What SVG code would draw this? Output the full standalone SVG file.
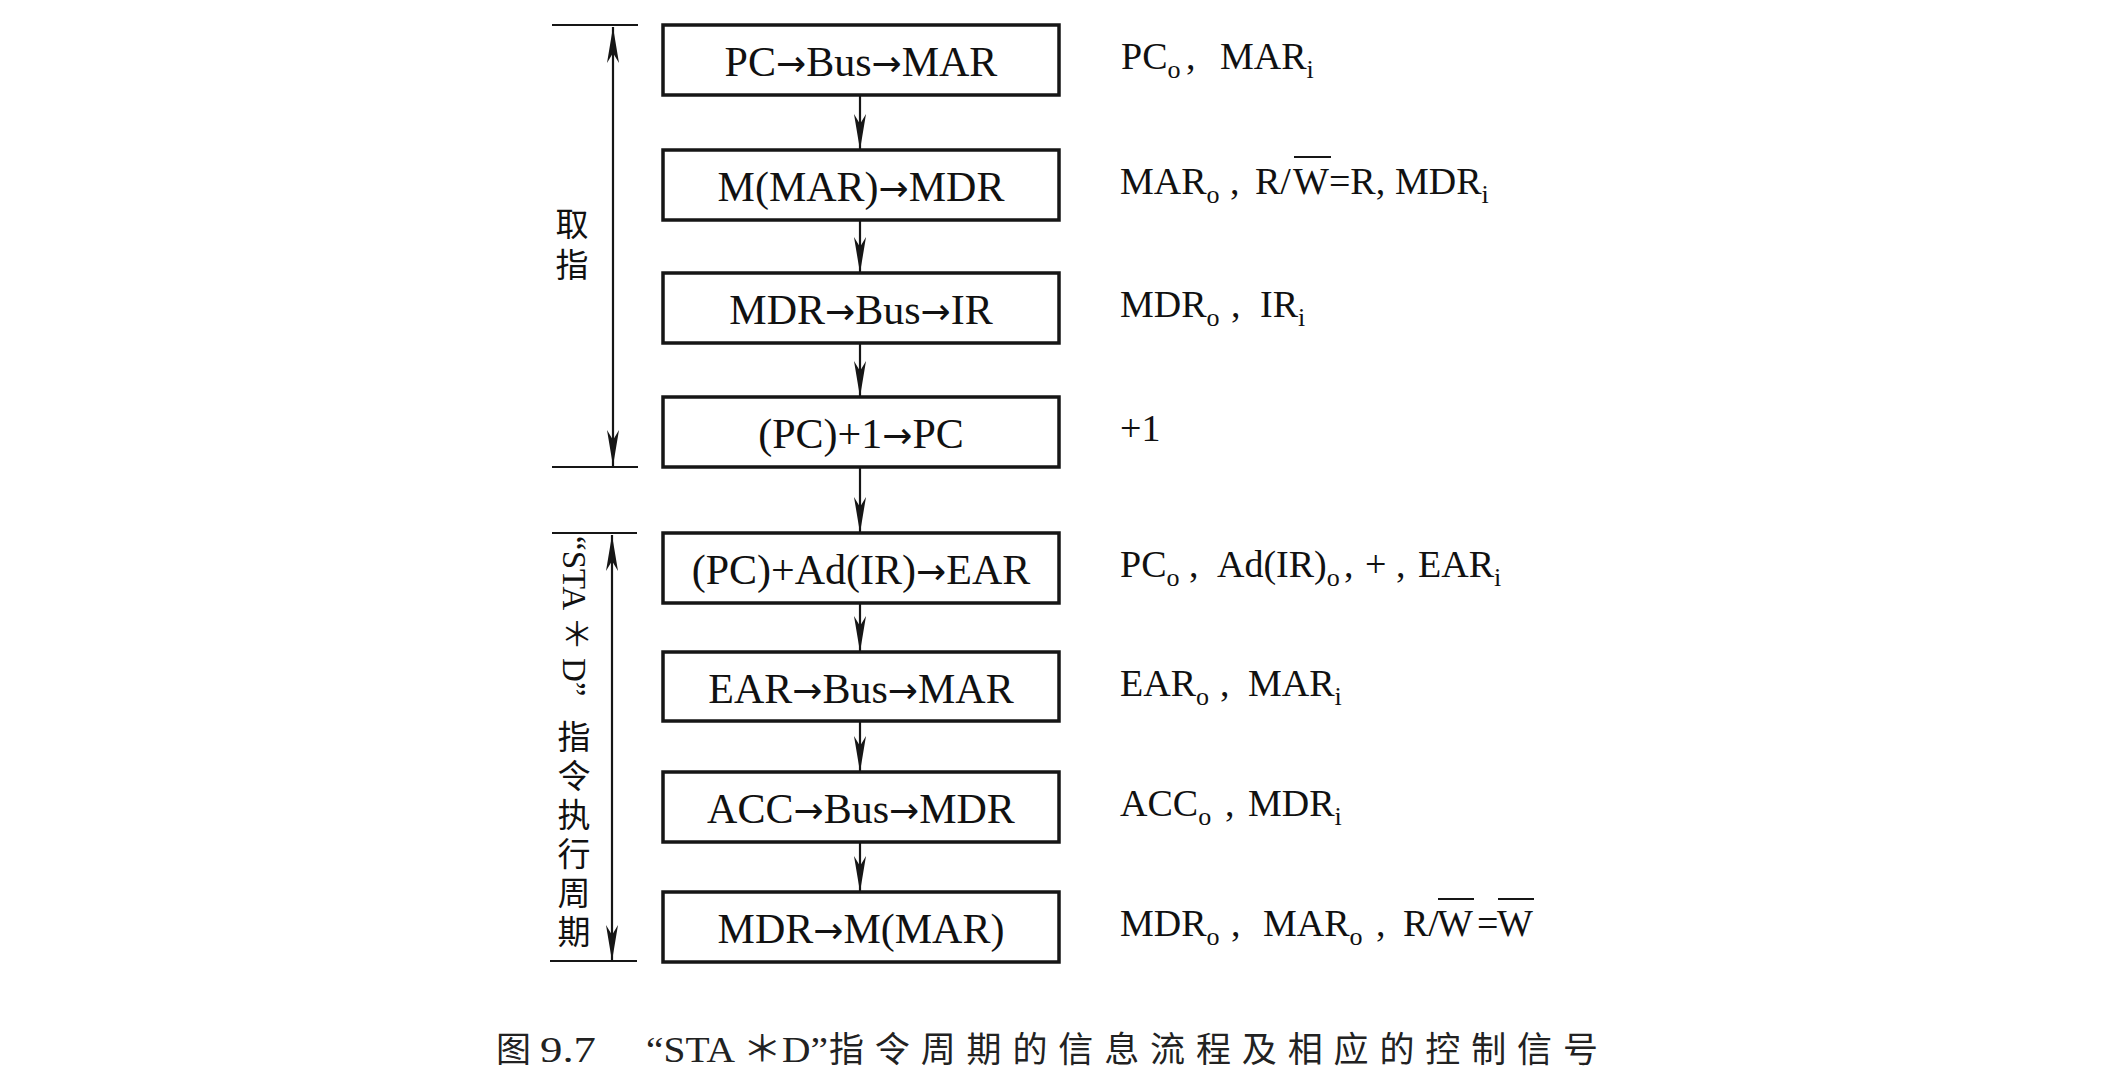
<svg xmlns="http://www.w3.org/2000/svg" width="2124" height="1092" viewBox="0 0 2124 1092">
<style>
.box{fill:#fff;stroke:#161616;stroke-width:3.5}
.bt{font-family:"Liberation Serif","Times New Roman",serif;font-size:42px;fill:#111;text-anchor:middle}
.ar{font-family:"DejaVu Sans",sans-serif;font-size:36px}
.sig{font-family:"Liberation Serif","Times New Roman",serif;font-size:38px;fill:#111}
.sub{font-size:26px}
.vt{font-family:"Liberation Serif","Noto Sans CJK SC",serif;font-size:33px;fill:#111;writing-mode:vertical-rl;text-orientation:mixed}
.cj{font-family:"Noto Sans CJK SC",sans-serif;letter-spacing:6px}
.ln{stroke:#161616;stroke-width:2.2;fill:none}
.ov{stroke:#161616;stroke-width:2}
.cap{font-family:"Noto Sans CJK SC",sans-serif;font-size:35px;fill:#222}
.capl{font-family:"Liberation Serif","Noto Sans CJK SC",serif;font-size:36px;fill:#222}
</style>
<defs>
<marker id="ah" viewBox="0 0 36 14" refX="36" refY="7" markerWidth="36" markerHeight="14" markerUnits="userSpaceOnUse" orient="auto-start-reverse">
<path d="M0,1 L36,7 L0,13 L10,7 Z" fill="#161616"/>
</marker>
</defs>
<rect width="2124" height="1092" fill="#fff"/>

<g id="connectors">
<line class="ln" x1="860" y1="96" x2="860" y2="150" marker-end="url(#ah)"/>
<line class="ln" x1="860" y1="221" x2="860" y2="273" marker-end="url(#ah)"/>
<line class="ln" x1="860" y1="344" x2="860" y2="397" marker-end="url(#ah)"/>
<line class="ln" x1="860" y1="468" x2="860" y2="533" marker-end="url(#ah)"/>
<line class="ln" x1="860" y1="604" x2="860" y2="652" marker-end="url(#ah)"/>
<line class="ln" x1="860" y1="722" x2="860" y2="772" marker-end="url(#ah)"/>
<line class="ln" x1="860" y1="843" x2="860" y2="892" marker-end="url(#ah)"/>
</g>

<g id="bracket-fetch">
<line class="ln" x1="552" y1="25" x2="638" y2="25"/>
<line class="ln" x1="552" y1="467" x2="638" y2="467"/>
<line class="ln" x1="613" y1="27" x2="613" y2="466" marker-start="url(#ah)" marker-end="url(#ah)"/>
<text class="vt" x="572" y="207"><tspan class="cj" style="letter-spacing:8px">取指</tspan></text>
</g>

<g id="bracket-exec">
<line class="ln" x1="552" y1="533" x2="637" y2="533"/>
<line class="ln" x1="550" y1="961" x2="637" y2="961"/>
<line class="ln" x1="612" y1="535" x2="612" y2="961" marker-start="url(#ah)" marker-end="url(#ah)"/>
<text class="vt" x="574" y="536">“STA ＊ D”<tspan class="cj" y="719">指令执行周期</tspan></text>
</g>

<g id="n1"><rect class="box" x="663" y="25" width="396" height="70"/><text class="bt" x="861" y="76">PC<tspan class="ar">→</tspan>Bus<tspan class="ar">→</tspan>MAR</text></g>
<g id="n2"><rect class="box" x="663" y="150" width="396" height="70"/><text class="bt" x="861" y="201">M(MAR)<tspan class="ar">→</tspan>MDR</text></g>
<g id="n3"><rect class="box" x="663" y="273" width="396" height="70"/><text class="bt" x="861" y="324">MDR<tspan class="ar">→</tspan>Bus<tspan class="ar">→</tspan>IR</text></g>
<g id="n4"><rect class="box" x="663" y="397" width="396" height="70"/><text class="bt" x="861" y="448">(PC)+1<tspan class="ar">→</tspan>PC</text></g>
<g id="n5"><rect class="box" x="663" y="533" width="396" height="70"/><text class="bt" x="861" y="584">(PC)+Ad(IR)<tspan class="ar">→</tspan>EAR</text></g>
<g id="n6"><rect class="box" x="663" y="652" width="396" height="69"/><text class="bt" x="861" y="703">EAR<tspan class="ar">→</tspan>Bus<tspan class="ar">→</tspan>MAR</text></g>
<g id="n7"><rect class="box" x="663" y="772" width="396" height="70"/><text class="bt" x="861" y="823">ACC<tspan class="ar">→</tspan>Bus<tspan class="ar">→</tspan>MDR</text></g>
<g id="n8"><rect class="box" x="663" y="892" width="396" height="70"/><text class="bt" x="861" y="943">MDR<tspan class="ar">→</tspan>M(MAR)</text></g>

<g id="signals">
<text class="sig" x="1121" y="69">PC<tspan class="sub" dy="9">o</tspan><tspan x="1186" dy="-9">,</tspan><tspan x="1220">MAR</tspan><tspan class="sub" dy="9">i</tspan></text>
<text class="sig" x="1120" y="194">MAR<tspan class="sub" dy="9">o</tspan><tspan x="1230" dy="-9">,</tspan><tspan x="1255">R/</tspan><tspan x="1293">W</tspan><tspan>=R,</tspan><tspan x="1395">MDR</tspan><tspan class="sub" dy="9">i</tspan></text>
<line class="ov" x1="1294" y1="157" x2="1331" y2="157"/>
<text class="sig" x="1120" y="317">MDR<tspan class="sub" dy="9">o</tspan><tspan x="1231" dy="-9">,</tspan><tspan x="1260">IR</tspan><tspan class="sub" dy="9">i</tspan></text>
<text class="sig" x="1120" y="441">+1</text>
<text class="sig" x="1120" y="577">PC<tspan class="sub" dy="9">o</tspan><tspan x="1189" dy="-9">,</tspan><tspan x="1217">Ad(IR)</tspan><tspan class="sub" dy="9">o</tspan><tspan x="1344" dy="-9">,</tspan><tspan x="1365">+</tspan><tspan x="1396">,</tspan><tspan x="1418">EAR</tspan><tspan class="sub" dy="9">i</tspan></text>
<text class="sig" x="1120" y="696">EAR<tspan class="sub" dy="9">o</tspan><tspan x="1220" dy="-9">,</tspan><tspan x="1248">MAR</tspan><tspan class="sub" dy="9">i</tspan></text>
<text class="sig" x="1120" y="816">ACC<tspan class="sub" dy="9">o</tspan><tspan x="1225" dy="-9">,</tspan><tspan x="1248">MDR</tspan><tspan class="sub" dy="9">i</tspan></text>
<text class="sig" x="1120" y="936">MDR<tspan class="sub" dy="9">o</tspan><tspan x="1231" dy="-9">,</tspan><tspan x="1263">MAR</tspan><tspan class="sub" dy="9">o</tspan><tspan x="1376" dy="-9">,</tspan><tspan x="1403">R/</tspan><tspan x="1437">W</tspan><tspan x="1477">=</tspan><tspan x="1497">W</tspan></text>
<line class="ov" x1="1438" y1="899" x2="1474" y2="899"/>
<line class="ov" x1="1498" y1="899" x2="1534" y2="899"/>
</g>

<g id="caption">
<text class="cap" x="496" y="1062">图</text>
<text class="capl" x="540" y="1062" textLength="56" lengthAdjust="spacingAndGlyphs">9.7</text>
<text class="capl" x="646" y="1062" textLength="182" lengthAdjust="spacingAndGlyphs">“STA ＊D”</text>
<text class="cap" x="829" y="1062" textLength="769" lengthAdjust="spacing">指令周期的信息流程及相应的控制信号</text>
</g>
</svg>
